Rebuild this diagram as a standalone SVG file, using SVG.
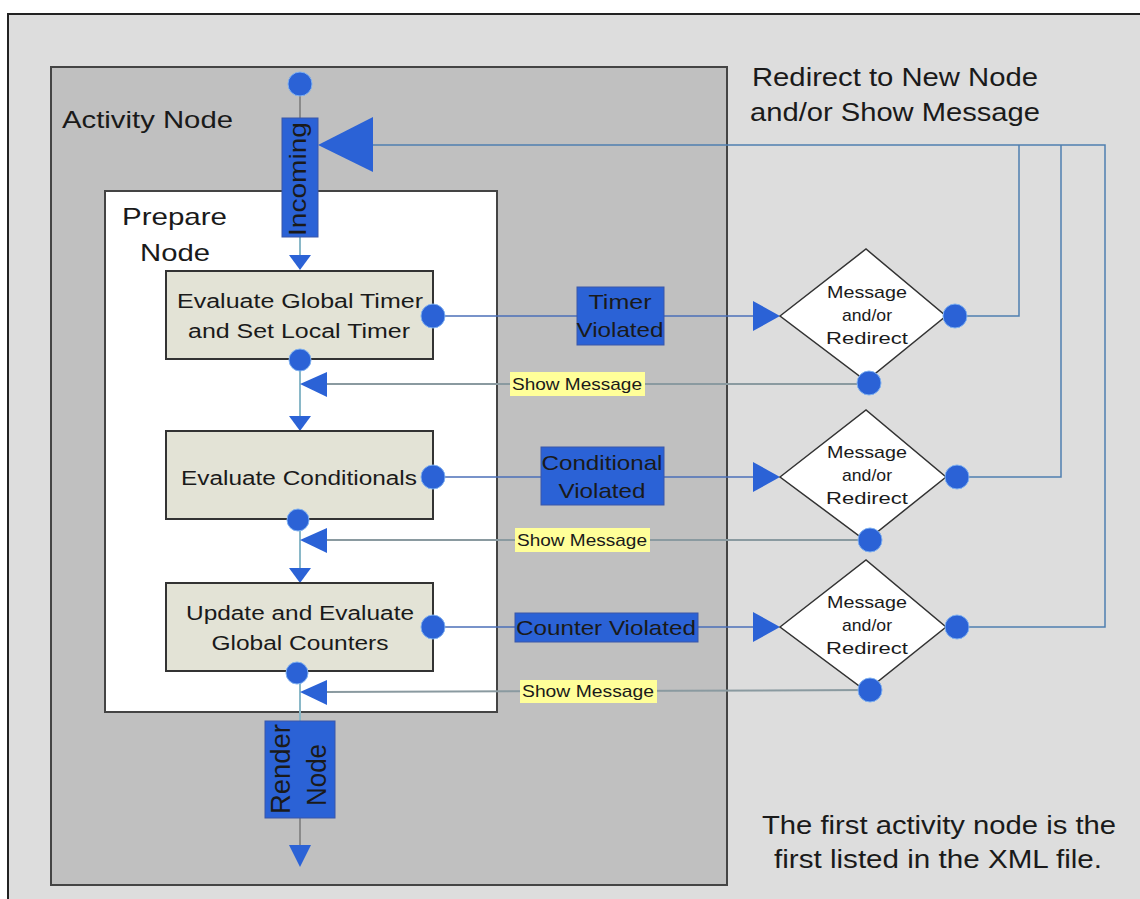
<svg xmlns="http://www.w3.org/2000/svg" width="1140" height="899" viewBox="0 0 1140 899">
  <defs>
    <style>
      .t { font-family: "Liberation Sans", Arial, sans-serif; fill: #1a1a1a; }
      .step { fill: #e3e3d6; stroke: #333; stroke-width: 2; }
      .dot { fill: #2b62d6; stroke: #7fb0f0; stroke-width: 1; }
      .tag { fill: #2b62d6; stroke: #3b57a8; stroke-width: 1; }
      .note { fill: #ffff99; }
      .flow { fill: none; stroke: #4b6fb8; stroke-width: 1.5; }
      .back { fill: none; stroke: #8a9aa0; stroke-width: 2; }
      .redir { fill: none; stroke: #4f7fb0; stroke-width: 1.5; }
      .tri { fill: #2b62d6; }
      .dia { fill: #ffffff; stroke: #333; stroke-width: 1.5; }
    </style>
  </defs>

  <!-- page frame -->
  <rect x="0" y="0" width="1140" height="899" fill="#ffffff"/>
  <rect x="8" y="14" width="1140" height="900" fill="#dddddd" stroke="#222" stroke-width="2"/>

  <!-- activity node container -->
  <g id="activity-node">
    <rect x="51" y="67" width="676" height="818" fill="#c0c0c0" stroke="#444" stroke-width="2"/>
    <text class="t" x="62" y="128" font-size="24" textLength="171" lengthAdjust="spacingAndGlyphs">Activity Node</text>
  </g>

  <!-- prepare node container -->
  <g id="prepare-node">
    <rect x="105" y="191" width="392" height="521" fill="#ffffff" stroke="#444" stroke-width="2"/>
    <text class="t" x="122" y="225" font-size="24" textLength="105" lengthAdjust="spacingAndGlyphs">Prepare</text>
    <text class="t" x="140" y="261" font-size="24" textLength="70" lengthAdjust="spacingAndGlyphs">Node</text>
  </g>

  <!-- connectors -->
  <g id="connectors">
    <!-- main vertical flow -->
    <line x1="300" y1="84" x2="300" y2="118" stroke="#8a8a8a" stroke-width="2"/>
    <line x1="300" y1="237" x2="300" y2="258" stroke="#8ab8c8" stroke-width="2"/>
    <polygon class="tri" points="289,255 311,255 300,270"/>
    <line x1="300" y1="360" x2="300" y2="418" stroke="#8ab8c8" stroke-width="2"/>
    <polygon class="tri" points="289,416 311,416 300,431"/>
    <line x1="300" y1="519" x2="300" y2="570" stroke="#8ab8c8" stroke-width="2"/>
    <polygon class="tri" points="289,568 311,568 300,583"/>
    <line x1="300" y1="673" x2="300" y2="721" stroke="#8ab8c8" stroke-width="2"/>
    <line x1="300" y1="818" x2="300" y2="848" stroke="#8a8a8a" stroke-width="2"/>
    <polygon class="tri" points="289,845 311,845 300,867"/>

    <!-- violation flows to decisions -->
    <line class="flow" x1="433" y1="316" x2="756" y2="316"/>
    <polygon class="tri" points="753,301 753,331 780,316"/>
    <line class="flow" x1="433" y1="477" x2="756" y2="477" stroke="#6a8a90"/>
    <polygon class="tri" points="753,462 753,492 780,477"/>
    <line class="flow" x1="433" y1="627" x2="756" y2="627"/>
    <polygon class="tri" points="753,612 753,642 780,627"/>

    <!-- show message returns -->
    <line class="back" x1="325" y1="384" x2="868" y2="384"/>
    <polygon class="tri" points="300,384 327,372 327,397"/>
    <line class="back" x1="325" y1="540" x2="870" y2="540" stroke="#7aa0a0"/>
    <polygon class="tri" points="300,540 327,528 327,553"/>
    <line class="back" x1="325" y1="692" x2="870" y2="690" stroke="#7a90b8"/>
    <polygon class="tri" points="300,692 327,680 327,705"/>

    <!-- redirect returns to incoming -->
    <polyline class="redir" points="955,316 1019,316 1019,145"/>
    <polyline class="redir" points="957,477 1061,477 1061,145"/>
    <polyline class="redir" points="957,627 1105,627 1105,145 370,145"/>
    <polygon class="tri" points="318,145 373,117 373,172"/>
  </g>

  <!-- flow terminals and labels -->
  <g id="incoming">
    <circle class="dot" cx="300" cy="84" r="12"/>
    <rect class="tag" x="282" y="118" width="36" height="119"/>
    <text class="t" font-size="24" text-anchor="middle" textLength="114" lengthAdjust="spacingAndGlyphs" transform="translate(306,179) rotate(-90)">Incoming</text>
  </g>

  <g id="render-node">
    <rect class="tag" x="265" y="721" width="70" height="97"/>
    <text class="t" font-size="28" text-anchor="middle" textLength="90" lengthAdjust="spacingAndGlyphs" transform="translate(290,769) rotate(-90)">Render</text>
    <text class="t" font-size="28" text-anchor="middle" textLength="62" lengthAdjust="spacingAndGlyphs" transform="translate(326,775) rotate(-90)">Node</text>
  </g>

  <!-- processing steps -->
  <g id="step-timer">
    <rect class="step" x="166" y="271" width="267" height="88"/>
    <text class="t" x="300" y="308" font-size="20" text-anchor="middle" textLength="246" lengthAdjust="spacingAndGlyphs">Evaluate Global Timer</text>
    <text class="t" x="299" y="338" font-size="20" text-anchor="middle" textLength="222" lengthAdjust="spacingAndGlyphs">and Set Local Timer</text>
    <circle class="dot" cx="433" cy="316" r="12"/>
    <circle class="dot" cx="300" cy="360" r="11"/>
  </g>

  <g id="step-conditionals">
    <rect class="step" x="166" y="431" width="267" height="88"/>
    <text class="t" x="299" y="485" font-size="20" text-anchor="middle" textLength="236" lengthAdjust="spacingAndGlyphs">Evaluate Conditionals</text>
    <circle class="dot" cx="433" cy="477" r="12"/>
    <circle class="dot" cx="298" cy="520" r="11"/>
  </g>

  <g id="step-counters">
    <rect class="step" x="166" y="583" width="267" height="88"/>
    <text class="t" x="300" y="620" font-size="20" text-anchor="middle" textLength="228" lengthAdjust="spacingAndGlyphs">Update and Evaluate</text>
    <text class="t" x="300" y="650" font-size="20" text-anchor="middle" textLength="177" lengthAdjust="spacingAndGlyphs">Global Counters</text>
    <circle class="dot" cx="433" cy="627" r="12"/>
    <circle class="dot" cx="297" cy="673" r="11"/>
  </g>

  <!-- violation labels -->
  <g id="label-timer">
    <rect class="tag" x="577" y="287" width="87" height="58"/>
    <text class="t" x="620" y="309" font-size="21" text-anchor="middle" textLength="63" lengthAdjust="spacingAndGlyphs">Timer</text>
    <text class="t" x="620" y="337" font-size="21" text-anchor="middle" textLength="87" lengthAdjust="spacingAndGlyphs">Violated</text>
  </g>
  <g id="label-conditional">
    <rect class="tag" x="541" y="447" width="123" height="58"/>
    <text class="t" x="602" y="470" font-size="21" text-anchor="middle" textLength="121" lengthAdjust="spacingAndGlyphs">Conditional</text>
    <text class="t" x="602" y="498" font-size="21" text-anchor="middle" textLength="87" lengthAdjust="spacingAndGlyphs">Violated</text>
  </g>
  <g id="label-counter">
    <rect class="tag" x="515" y="613" width="183" height="29"/>
    <text class="t" x="606" y="635" font-size="21" text-anchor="middle" textLength="180" lengthAdjust="spacingAndGlyphs">Counter Violated</text>
  </g>

  <!-- show message labels -->
  <g id="msg-1">
    <rect class="note" x="510" y="372" width="135" height="24"/>
    <text class="t" x="577" y="390" font-size="17" text-anchor="middle" textLength="130" lengthAdjust="spacingAndGlyphs">Show Message</text>
  </g>
  <g id="msg-2">
    <rect class="note" x="515" y="528" width="135" height="24"/>
    <text class="t" x="582" y="546" font-size="17" text-anchor="middle" textLength="130" lengthAdjust="spacingAndGlyphs">Show Message</text>
  </g>
  <g id="msg-3">
    <rect class="note" x="520" y="680" width="137" height="23"/>
    <text class="t" x="588" y="697" font-size="17" text-anchor="middle" textLength="132" lengthAdjust="spacingAndGlyphs">Show Message</text>
  </g>

  <!-- decisions -->
  <g id="decision-1">
    <polygon class="dia" points="780,316 866,249 946,316 866,381"/>
    <text class="t" x="867" y="298" font-size="17" text-anchor="middle" textLength="80" lengthAdjust="spacingAndGlyphs">Message</text>
    <text class="t" x="867" y="321" font-size="17" text-anchor="middle" textLength="50" lengthAdjust="spacingAndGlyphs">and/or</text>
    <text class="t" x="867" y="344" font-size="17" text-anchor="middle" textLength="82" lengthAdjust="spacingAndGlyphs">Redirect</text>
    <circle class="dot" cx="955" cy="316" r="12"/>
    <circle class="dot" cx="869" cy="383" r="12"/>
  </g>
  <g id="decision-2">
    <polygon class="dia" points="780,477 866,410 946,477 866,541"/>
    <text class="t" x="867" y="458" font-size="17" text-anchor="middle" textLength="80" lengthAdjust="spacingAndGlyphs">Message</text>
    <text class="t" x="867" y="481" font-size="17" text-anchor="middle" textLength="50" lengthAdjust="spacingAndGlyphs">and/or</text>
    <text class="t" x="867" y="504" font-size="17" text-anchor="middle" textLength="82" lengthAdjust="spacingAndGlyphs">Redirect</text>
    <circle class="dot" cx="957" cy="477" r="12"/>
    <circle class="dot" cx="870" cy="540" r="12"/>
  </g>
  <g id="decision-3">
    <polygon class="dia" points="780,627 866,560 946,627 866,691"/>
    <text class="t" x="867" y="608" font-size="17" text-anchor="middle" textLength="80" lengthAdjust="spacingAndGlyphs">Message</text>
    <text class="t" x="867" y="631" font-size="17" text-anchor="middle" textLength="50" lengthAdjust="spacingAndGlyphs">and/or</text>
    <text class="t" x="867" y="654" font-size="17" text-anchor="middle" textLength="82" lengthAdjust="spacingAndGlyphs">Redirect</text>
    <circle class="dot" cx="957" cy="627" r="12"/>
    <circle class="dot" cx="870" cy="690" r="12"/>
  </g>

  <!-- captions -->
  <g id="caption-redirect">
    <text class="t" x="895" y="86" font-size="25" text-anchor="middle" textLength="286" lengthAdjust="spacingAndGlyphs">Redirect to New Node</text>
    <text class="t" x="895" y="121" font-size="25" text-anchor="middle" textLength="290" lengthAdjust="spacingAndGlyphs">and/or Show Message</text>
  </g>
  <g id="caption-first">
    <text class="t" x="939" y="834" font-size="25" text-anchor="middle" textLength="354" lengthAdjust="spacingAndGlyphs">The first activity node is the</text>
    <text class="t" x="938" y="868" font-size="25" text-anchor="middle" textLength="328" lengthAdjust="spacingAndGlyphs">first listed in the XML file.</text>
  </g>
</svg>
